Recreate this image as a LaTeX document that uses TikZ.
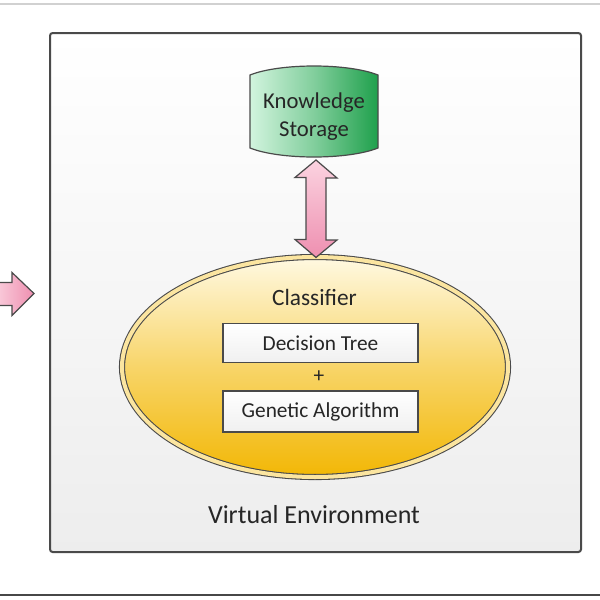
\documentclass[tikz,border=0pt]{standalone}
\usepackage{fontspec}
\setmainfont{Carlito}
\usetikzlibrary{shapes.geometric,calc}
\definecolor{txt}{HTML}{262626}
\definecolor{edge}{HTML}{4A4A4A}
\definecolor{pinkA}{HTML}{FBD3E0}
\definecolor{pinkB}{HTML}{EE8FB0}
\definecolor{greenA}{HTML}{D2F4DE}
\definecolor{greenB}{HTML}{1FA04C}
\definecolor{yelA}{HTML}{FFF9E2}
\definecolor{yelB}{HTML}{F2B705}
\tikzset{
  envbox/.style={draw=edge, line width=1.5pt, rounded corners=2pt, top color=white, bottom color=black!7, inner sep=0pt},
  storeshape/.style={draw=edge, line width=0.9pt, left color=greenA, right color=greenB, middle color=greenB!45!greenA},
  pinkarr/.style={draw=edge, line width=0.9pt, line join=miter, left color=pinkA, right color=pinkB},
  pinkvert/.style={draw=edge, line width=0.9pt, line join=miter, top color=pinkA, bottom color=pinkB},
  clsshape/.style={ellipse, draw=edge, line width=0.8pt, double=yelA!70!yelB, double distance=3pt, top color=yelA, bottom color=yelB, middle color=yelB!55!yelA, inner sep=0pt},
  algbox/.style={draw=edge, line width=1.1pt, top color=white, bottom color=black!6, minimum width=146pt, minimum height=29pt, inner sep=0pt, text=txt, font=\fontsize{16}{19}\selectfont},
  lbl/.style={text=txt, inner sep=0pt}
}
\begin{document}
\begin{tikzpicture}[x=0.75pt,y=-0.75pt]
\useasboundingbox (0,0) rectangle (600,600);
\fill[white] (0,0) rectangle (600,600);
% frame lines
\draw[black!18, line width=1.5pt] (0,4) -- (600,4);
\draw[black!72, line width=1.5pt] (0,594.5) -- (600,594.5);
% environment box
\node[envbox, minimum width=398.25pt, minimum height=389.25pt] (env) at (315.5,292.5) {};
\node[lbl, font=\fontsize{19.5}{23}\selectfont] (venv) at (314,515) {Virtual Environment};
% incoming arrow from the left
\coordinate (ltip) at ($(env.west)+(-15,1)$);
\draw[pinkarr] (ltip) -- ++(-22,-21) -- ++(0,10) -- ++(-20,0) -- ++(0,23) -- ++(20,0) -- ++(0,10) -- cycle;
% knowledge storage
\draw[storeshape] (250,75) .. controls (280,63) and (348,63) .. (378,75) -- (378,148) .. controls (348,160) and (280,160) .. (250,148) -- cycle;
\node[lbl, align=center, font=\fontsize{17}{21}\selectfont, minimum width=96pt, minimum height=62pt] (ks) at (314,117) {Knowledge\\Storage};
% classifier ellipse
\node[clsshape, minimum width=289.5pt, minimum height=165pt] (cls) at (315,367) {};
\node[lbl, font=\fontsize{17.5}{21}\selectfont] (clt) at (314.5,297) {Classifier};
\node[algbox] (dt) at (320.5,343) {Decision Tree};
\node[lbl, font=\fontsize{16}{19}\selectfont] (plus) at (319,377) {+};
\node[algbox, minimum height=31pt] (ga) at (320.5,411.5) {Genetic Algorithm};
% double arrow between storage and classifier
\coordinate (at) at (316,160);
\coordinate (ab) at ($(cls.north)+(1,1)$);
\draw[pinkvert] (at) -- ++(21,18) -- ++(-11,0) -- ++(0,62) -- ++(11,0) -- (ab) -- ++(-21,-18) -- ++(11,0) -- ++(0,-62) -- ++(-11,0) -- cycle;
\end{tikzpicture}
\end{document}
